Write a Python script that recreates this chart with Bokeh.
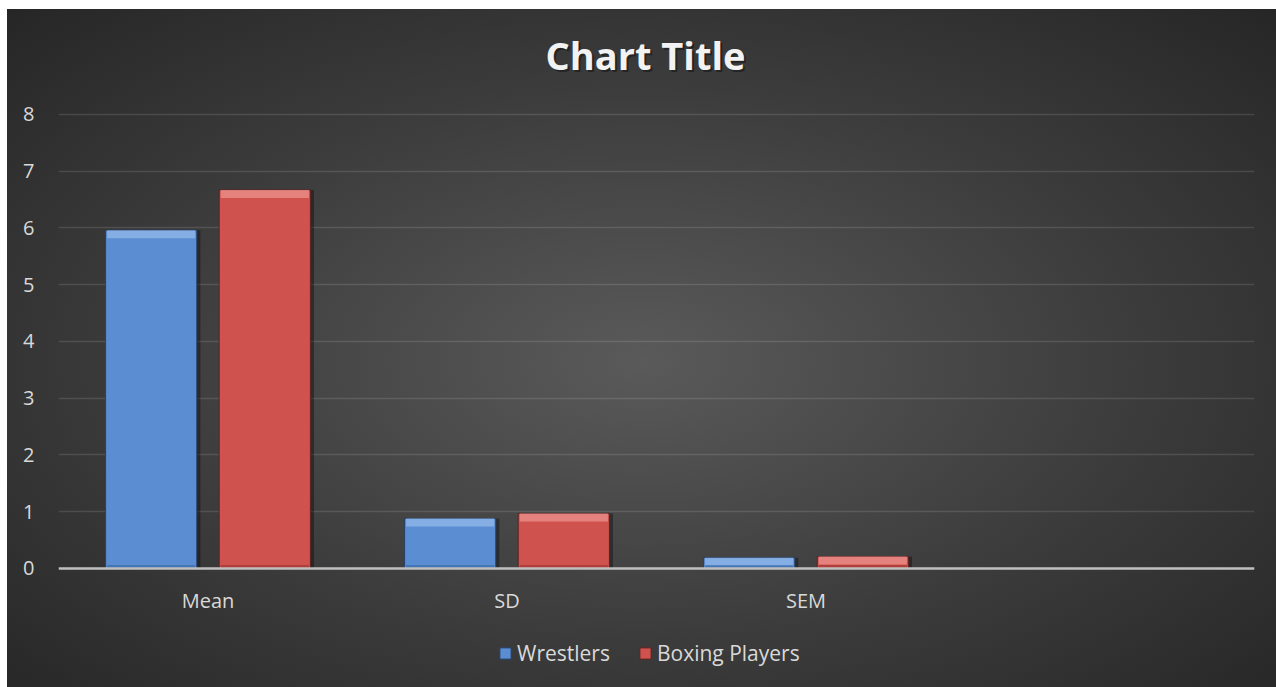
from bokeh.plotting import figure
from bokeh.models import ColumnDataSource, FactorRange, Legend, LegendItem, Label
from bokeh.core.properties import value
from bokeh.transform import dodge
from bokeh.embed import file_html
from bokeh.resources import INLINE

# ---- data ----
title_text = "Chart Title"
categories = ["Mean", "SD", "SEM"]
axis_factors = ["Mean", "SD", "SEM", " "]   # Excel chart shows an empty 4th slot
wrestlers = [5.96, 0.88, 0.19]
boxing = [6.67, 0.97, 0.21]
series_names = ["Wrestlers", "Boxing Players"]
y_ticks = [0, 1, 2, 3, 4, 5, 6, 7, 8]

FONT = "Open Sans"
TXT = "#d9d9d9"

# the frame spans the full chart height: title above 8, labels/legend below 0
p = figure(x_range=FactorRange(*axis_factors), y_range=(-2.097, 9.85),
           width=1269, height=678, output_backend="svg", toolbar_location=None,
           min_border_left=51, min_border_right=22, min_border_top=0, min_border_bottom=0)
p.margin = (9, 0, 0, 7)
p.styles = {"background": "radial-gradient(ellipse at 50% 52%, #5a5a5a 0%, #3c3c3c 55%, #262626 100%)"}
p.border_fill_alpha = 0
p.background_fill_alpha = 0
p.outline_line_color = None
p.x_range.range_padding = 0

# title (with soft shadow), placed in screen units
for dx, dy, col, alpha in [(2, -2, "black", 0.4), (0, 0, "#f2f2f2", 1.0)]:
    p.add_layout(Label(x=587 + dx, y=633 + dy, x_units="screen", y_units="screen",
                       text=title_text, text_font=FONT, text_font_size="38px",
                       text_font_style="bold", text_color=col, text_alpha=alpha,
                       text_align="center", text_baseline="middle"))


def bands(vals):
    top_lo = [max(v - 0.14, 0) for v in vals]
    bot_hi = [min(0.06, v * 0.3) for v in vals]
    return top_lo, bot_hi


def make_src(vals):
    top_lo, bot_hi = bands(vals)
    return ColumnDataSource(dict(cat=categories, v=vals, tlo=top_lo, bhi=bot_hi))


src_w = make_src(wrestlers)
src_b = make_src(boxing)

BW = 0.305
OFF = 0.19
styles = [
    (src_w, -OFF, "#5b8dd2", "#93b9ea", "#3f6fae", "#27406a"),
    (src_b, OFF, "#d0524e", "#ec938f", "#a83a37", "#5c2321"),
]
main_renderers = []
for src, off, face, light, dark, edge in styles:
    # shadow
    p.vbar(x=dodge("cat", off + 0.012, range=p.x_range), top="v", bottom=0, width=BW,
           source=src, fill_color="black", fill_alpha=0.35, line_color=None)
    r = p.vbar(x=dodge("cat", off, range=p.x_range), top="v", bottom=0, width=BW,
               source=src, fill_color=face, line_color=edge, line_width=1)
    main_renderers.append(r)
    p.vbar(x=dodge("cat", off, range=p.x_range), top="v", bottom="tlo", width=BW - 0.01,
           source=src, fill_color=light, fill_alpha=0.75, line_color=None)
    p.vbar(x=dodge("cat", off, range=p.x_range), top="bhi", bottom=0, width=BW - 0.01,
           source=src, fill_color=dark, fill_alpha=0.8, line_color=None)

# zero line (category axis line)
p.hspan(y=[0], line_color="#bfbfbf", line_width=2.5)

# category labels under the zero line
lab_src = ColumnDataSource(dict(cat=categories, y=[0] * len(categories)))
p.text(x="cat", y="y", text="cat", source=lab_src, text_font=value(FONT),
       text_font_size="20px", text_color=TXT, text_align="center",
       text_baseline="middle", y_offset=32)

# axes
p.yaxis.ticker = y_ticks
p.yaxis.axis_line_color = None
p.yaxis.major_tick_line_color = None
p.yaxis.minor_tick_line_color = None
p.yaxis.major_label_text_font = FONT
p.yaxis.major_label_text_font_size = "20px"
p.yaxis.major_label_text_color = TXT
p.yaxis.major_label_standoff = 18
p.xaxis.visible = False

p.xgrid.grid_line_color = None
p.ygrid.grid_line_color = "white"
p.ygrid.grid_line_alpha = 0.12
p.ygrid.grid_line_width = 1.5

legend = Legend(items=[LegendItem(label=series_names[0], renderers=[main_renderers[0]]),
                       LegendItem(label=series_names[1], renderers=[main_renderers[1]])],
                orientation="horizontal", location=(440, 20),
                label_text_font=FONT, label_text_font_size="21px", label_text_color=TXT,
                glyph_width=14, glyph_height=14, spacing=28, label_standoff=5,
                background_fill_alpha=0, border_line_color=None, margin=0, padding=0)
p.add_layout(legend)

open("out.html", "w").write(file_html(p, INLINE))
